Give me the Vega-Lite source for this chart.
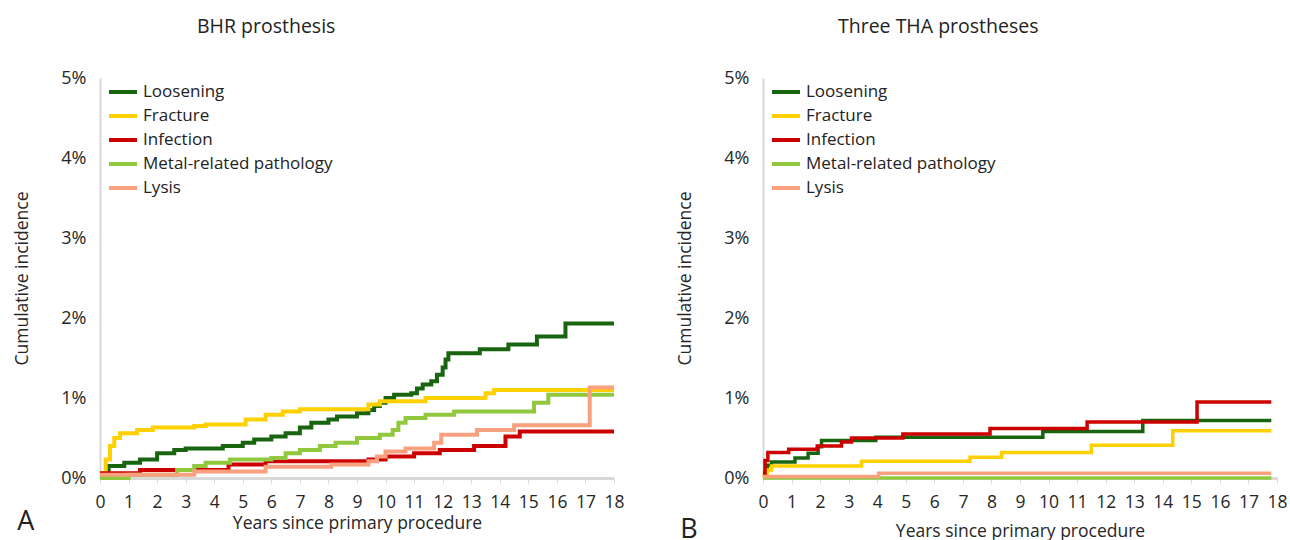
{
  "$schema": "https://vega.github.io/schema/vega-lite/v6.json",
  "background": "white",
  "padding": {"left": 13, "top": 16, "right": 5, "bottom": 0},
  "spacing": 51,
  "config": {
    "font": "Open Sans",
    "view": {"stroke": null},
    "text": {"color": "#222222"},
    "title": {"color": "#222222", "fontWeight": "normal", "fontSize": 19.5, "font": "Open Sans"},
    "axis": {"labelColor": "#262626", "titleColor": "#262626", "labelFont": "Open Sans", "titleFont": "Open Sans", "titleFontWeight": "normal", "grid": false, "domainColor": "#d9d9d9", "tickColor": "#d9d9d9", "labelOverlap": false},
    "legend": {"labelFont": "Open Sans", "labelColor": "#222222"}
  },
  "datasets": {
    "bhr": [
      {"cause": "Loosening", "t": 0, "v": 0}, {"cause": "Loosening", "t": 0.1, "v": 0.05}, {"cause": "Loosening", "t": 0.3, "v": 0.15}, {"cause": "Loosening", "t": 0.85, "v": 0.19}, {"cause": "Loosening", "t": 1.4, "v": 0.23}, {"cause": "Loosening", "t": 2.0, "v": 0.31}, {"cause": "Loosening", "t": 2.6, "v": 0.35}, {"cause": "Loosening", "t": 3.0, "v": 0.37}, {"cause": "Loosening", "t": 4.3, "v": 0.40}, {"cause": "Loosening", "t": 5.0, "v": 0.44}, {"cause": "Loosening", "t": 5.4, "v": 0.48}, {"cause": "Loosening", "t": 6.0, "v": 0.52}, {"cause": "Loosening", "t": 6.5, "v": 0.56}, {"cause": "Loosening", "t": 7.0, "v": 0.63}, {"cause": "Loosening", "t": 7.4, "v": 0.69}, {"cause": "Loosening", "t": 8.0, "v": 0.73}, {"cause": "Loosening", "t": 8.3, "v": 0.77}, {"cause": "Loosening", "t": 9.0, "v": 0.81}, {"cause": "Loosening", "t": 9.4, "v": 0.85}, {"cause": "Loosening", "t": 9.6, "v": 0.90}, {"cause": "Loosening", "t": 9.8, "v": 0.94}, {"cause": "Loosening", "t": 10.0, "v": 1.0}, {"cause": "Loosening", "t": 10.3, "v": 1.04}, {"cause": "Loosening", "t": 10.9, "v": 1.06}, {"cause": "Loosening", "t": 11.1, "v": 1.12}, {"cause": "Loosening", "t": 11.3, "v": 1.17}, {"cause": "Loosening", "t": 11.6, "v": 1.21}, {"cause": "Loosening", "t": 11.8, "v": 1.29}, {"cause": "Loosening", "t": 12.0, "v": 1.38}, {"cause": "Loosening", "t": 12.1, "v": 1.48}, {"cause": "Loosening", "t": 12.2, "v": 1.56}, {"cause": "Loosening", "t": 13.3, "v": 1.61}, {"cause": "Loosening", "t": 14.3, "v": 1.67}, {"cause": "Loosening", "t": 15.3, "v": 1.77}, {"cause": "Loosening", "t": 16.3, "v": 1.93}, {"cause": "Loosening", "t": 18, "v": 1.93},
      {"cause": "Fracture", "t": 0, "v": 0}, {"cause": "Fracture", "t": 0.07, "v": 0.06}, {"cause": "Fracture", "t": 0.2, "v": 0.23}, {"cause": "Fracture", "t": 0.35, "v": 0.40}, {"cause": "Fracture", "t": 0.5, "v": 0.50}, {"cause": "Fracture", "t": 0.7, "v": 0.56}, {"cause": "Fracture", "t": 1.3, "v": 0.60}, {"cause": "Fracture", "t": 1.85, "v": 0.63}, {"cause": "Fracture", "t": 3.3, "v": 0.65}, {"cause": "Fracture", "t": 3.7, "v": 0.67}, {"cause": "Fracture", "t": 5.1, "v": 0.73}, {"cause": "Fracture", "t": 5.8, "v": 0.79}, {"cause": "Fracture", "t": 6.4, "v": 0.83}, {"cause": "Fracture", "t": 7.0, "v": 0.86}, {"cause": "Fracture", "t": 9.4, "v": 0.92}, {"cause": "Fracture", "t": 9.8, "v": 0.96}, {"cause": "Fracture", "t": 11.4, "v": 1.0}, {"cause": "Fracture", "t": 13.5, "v": 1.06}, {"cause": "Fracture", "t": 13.8, "v": 1.10}, {"cause": "Fracture", "t": 18, "v": 1.10},
      {"cause": "Infection", "t": 0, "v": 0.06}, {"cause": "Infection", "t": 1.4, "v": 0.10}, {"cause": "Infection", "t": 4.5, "v": 0.17}, {"cause": "Infection", "t": 5.8, "v": 0.21}, {"cause": "Infection", "t": 9.4, "v": 0.23}, {"cause": "Infection", "t": 10.0, "v": 0.27}, {"cause": "Infection", "t": 11.0, "v": 0.31}, {"cause": "Infection", "t": 11.9, "v": 0.35}, {"cause": "Infection", "t": 13.1, "v": 0.40}, {"cause": "Infection", "t": 14.2, "v": 0.52}, {"cause": "Infection", "t": 14.7, "v": 0.58}, {"cause": "Infection", "t": 18, "v": 0.58},
      {"cause": "Metal-related pathology", "t": 0, "v": 0}, {"cause": "Metal-related pathology", "t": 1.0, "v": 0.04}, {"cause": "Metal-related pathology", "t": 2.7, "v": 0.10}, {"cause": "Metal-related pathology", "t": 3.3, "v": 0.15}, {"cause": "Metal-related pathology", "t": 3.7, "v": 0.19}, {"cause": "Metal-related pathology", "t": 4.55, "v": 0.23}, {"cause": "Metal-related pathology", "t": 6.0, "v": 0.25}, {"cause": "Metal-related pathology", "t": 6.5, "v": 0.31}, {"cause": "Metal-related pathology", "t": 7.0, "v": 0.35}, {"cause": "Metal-related pathology", "t": 7.7, "v": 0.40}, {"cause": "Metal-related pathology", "t": 8.25, "v": 0.44}, {"cause": "Metal-related pathology", "t": 9.0, "v": 0.50}, {"cause": "Metal-related pathology", "t": 9.8, "v": 0.54}, {"cause": "Metal-related pathology", "t": 10.25, "v": 0.60}, {"cause": "Metal-related pathology", "t": 10.45, "v": 0.69}, {"cause": "Metal-related pathology", "t": 10.7, "v": 0.75}, {"cause": "Metal-related pathology", "t": 11.4, "v": 0.79}, {"cause": "Metal-related pathology", "t": 12.4, "v": 0.83}, {"cause": "Metal-related pathology", "t": 15.2, "v": 0.94}, {"cause": "Metal-related pathology", "t": 15.7, "v": 1.04}, {"cause": "Metal-related pathology", "t": 18, "v": 1.04},
      {"cause": "Lysis", "t": 0, "v": 0.04}, {"cause": "Lysis", "t": 3.3, "v": 0.08}, {"cause": "Lysis", "t": 5.8, "v": 0.14}, {"cause": "Lysis", "t": 8.1, "v": 0.17}, {"cause": "Lysis", "t": 9.4, "v": 0.21}, {"cause": "Lysis", "t": 9.7, "v": 0.27}, {"cause": "Lysis", "t": 10.0, "v": 0.33}, {"cause": "Lysis", "t": 10.7, "v": 0.37}, {"cause": "Lysis", "t": 11.7, "v": 0.44}, {"cause": "Lysis", "t": 11.95, "v": 0.54}, {"cause": "Lysis", "t": 13.2, "v": 0.60}, {"cause": "Lysis", "t": 14.5, "v": 0.66}, {"cause": "Lysis", "t": 17.15, "v": 1.13}, {"cause": "Lysis", "t": 18, "v": 1.13}
    ],
    "tha": [
      {"cause": "Loosening", "t": 0, "v": 0.02}, {"cause": "Loosening", "t": 0.1, "v": 0.08}, {"cause": "Loosening", "t": 0.15, "v": 0.16}, {"cause": "Loosening", "t": 0.3, "v": 0.20}, {"cause": "Loosening", "t": 1.12, "v": 0.25}, {"cause": "Loosening", "t": 1.58, "v": 0.31}, {"cause": "Loosening", "t": 1.93, "v": 0.39}, {"cause": "Loosening", "t": 2.05, "v": 0.47}, {"cause": "Loosening", "t": 3.95, "v": 0.51}, {"cause": "Loosening", "t": 9.8, "v": 0.58}, {"cause": "Loosening", "t": 13.3, "v": 0.72}, {"cause": "Loosening", "t": 17.8, "v": 0.72},
      {"cause": "Fracture", "t": 0, "v": 0}, {"cause": "Fracture", "t": 0.05, "v": 0.04}, {"cause": "Fracture", "t": 0.15, "v": 0.10}, {"cause": "Fracture", "t": 0.3, "v": 0.15}, {"cause": "Fracture", "t": 3.45, "v": 0.21}, {"cause": "Fracture", "t": 7.25, "v": 0.26}, {"cause": "Fracture", "t": 8.36, "v": 0.32}, {"cause": "Fracture", "t": 11.5, "v": 0.41}, {"cause": "Fracture", "t": 14.35, "v": 0.59}, {"cause": "Fracture", "t": 17.8, "v": 0.59},
      {"cause": "Infection", "t": 0, "v": 0.06}, {"cause": "Infection", "t": 0.07, "v": 0.22}, {"cause": "Infection", "t": 0.17, "v": 0.32}, {"cause": "Infection", "t": 0.9, "v": 0.36}, {"cause": "Infection", "t": 1.9, "v": 0.40}, {"cause": "Infection", "t": 2.75, "v": 0.45}, {"cause": "Infection", "t": 3.1, "v": 0.50}, {"cause": "Infection", "t": 4.9, "v": 0.55}, {"cause": "Infection", "t": 7.95, "v": 0.62}, {"cause": "Infection", "t": 11.35, "v": 0.70}, {"cause": "Infection", "t": 15.2, "v": 0.95}, {"cause": "Infection", "t": 17.8, "v": 0.95},
      {"cause": "Metal-related pathology", "t": 0, "v": 0}, {"cause": "Metal-related pathology", "t": 17.8, "v": 0},
      {"cause": "Lysis", "t": 0, "v": 0.02}, {"cause": "Lysis", "t": 4.05, "v": 0.06}, {"cause": "Lysis", "t": 17.8, "v": 0.06}
    ]
  },
  "resolve": {"scale": {"color": "independent"}, "legend": {"color": "independent"}},
  "hconcat": [
    {
      "width": 514, "height": 400,
      "title": {"text": "BHR prosthesis", "anchor": "start", "frame": "group", "dx": 97, "offset": 32},
      "layer": [
        {
          "data": {"name": "bhr"},
          "mark": {"type": "line", "interpolate": "step-after", "strokeWidth": 4},
          "encoding": {
            "x": {"field": "t", "type": "quantitative", "scale": {"domain": [0, 18], "nice": false},
              "axis": {"values": [0,1,2,3,4,5,6,7,8,9,10,11,12,13,14,15,16,17,18], "tickCount": 19, "labelOverlap": false, "title": "Years since primary procedure", "labelFontSize": 17.5, "titleFontSize": 17.5, "tickSize": 5, "domainWidth": 3, "labelPadding": 10, "titlePadding": 4, "labelFlush": false}},
            "y": {"field": "v", "type": "quantitative", "scale": {"domain": [0, 5], "nice": false},
              "axis": {"values": [0,1,2,3,4,5], "labelExpr": "datum.value + '%'", "ticks": false, "domainWidth": 2, "labelPadding": 14, "labelFontSize": 18, "title": "Cumulative incidence", "titleFontSize": 17.5, "titlePadding": 29}},
            "color": {"field": "cause", "type": "nominal",
              "scale": {"domain": ["Loosening", "Fracture", "Infection", "Metal-related pathology", "Lysis"], "range": ["#19650f", "#ffd000", "#cc0000", "#92c83e", "#f9a07e"]},
              "legend": {"orient": "none", "legendX": 7, "legendY": -2, "title": null, "symbolType": "stroke", "symbolStrokeWidth": 4, "symbolSize": 784, "labelFontSize": 17, "labelLimit": 400, "labelOffset": 4, "rowPadding": 0, "padding": 0}}
          }
        },
        {
          "data": {"values": [{"label": "A"}]},
          "mark": {"type": "text", "align": "left", "baseline": "middle", "fontSize": 27, "font": "Open Sans"},
          "encoding": {"x": {"datum": -2.9, "type": "quantitative"}, "y": {"datum": -0.55, "type": "quantitative"}, "text": {"field": "label"}}
        }
      ]
    },
    {
      "width": 514, "height": 400,
      "title": {"text": "Three THA prostheses", "anchor": "start", "frame": "group", "dx": 75, "offset": 32},
      "layer": [
        {
          "data": {"name": "tha"},
          "mark": {"type": "line", "interpolate": "step-after", "strokeWidth": 3.5},
          "encoding": {
            "x": {"field": "t", "type": "quantitative", "scale": {"domain": [0, 18], "nice": false},
              "axis": {"values": [0,1,2,3,4,5,6,7,8,9,10,11,12,13,14,15,16,17,18], "tickCount": 19, "labelOverlap": false, "title": "Years since primary procedure", "labelFontSize": 17.5, "titleFontSize": 17.5, "tickSize": 5, "domainWidth": 3, "labelPadding": 10, "titlePadding": 12, "labelFlush": false}},
            "y": {"field": "v", "type": "quantitative", "scale": {"domain": [0, 5], "nice": false},
              "axis": {"values": [0,1,2,3,4,5], "labelExpr": "datum.value + '%'", "ticks": false, "domainWidth": 2, "labelPadding": 14, "labelFontSize": 18, "title": "Cumulative incidence", "titleFontSize": 17.5, "titlePadding": 29}},
            "color": {"field": "cause", "type": "nominal",
              "scale": {"domain": ["Loosening", "Fracture", "Infection", "Metal-related pathology", "Lysis"], "range": ["#19650f", "#ffd000", "#cc0000", "#92c83e", "#f9a07e"]},
              "legend": {"orient": "none", "legendX": 7, "legendY": -2, "title": null, "symbolType": "stroke", "symbolStrokeWidth": 4, "symbolSize": 784, "labelFontSize": 17, "labelLimit": 400, "labelOffset": 4, "rowPadding": 0, "padding": 0}}
          }
        },
        {
          "data": {"values": [{"label": "B"}]},
          "mark": {"type": "text", "align": "left", "baseline": "middle", "fontSize": 27, "font": "Open Sans"},
          "encoding": {"x": {"datum": -2.9, "type": "quantitative"}, "y": {"datum": -0.65, "type": "quantitative"}, "text": {"field": "label"}}
        }
      ]
    }
  ]
}
